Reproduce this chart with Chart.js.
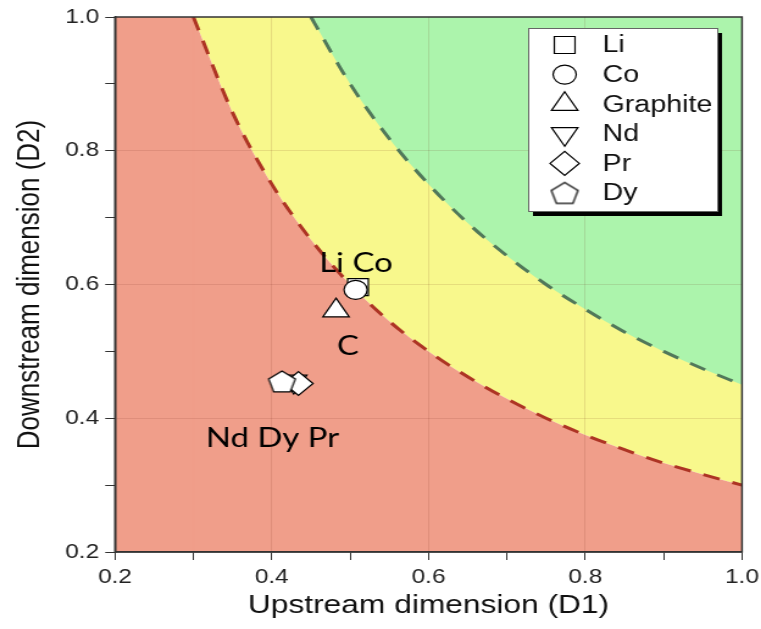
<!DOCTYPE html>
<html>
<head>
<meta charset="utf-8">
<script src="https://cdn.jsdelivr.net/npm/chart.js@4.4.0/dist/chart.umd.min.js"></script>
<style>
  html, body { margin: 0; padding: 0; background: #fff; overflow: hidden; }
  /* the reference picture is stretched sideways, so the canvas is too */
  #chart { display: block; transform: scaleX(1.2196); transform-origin: 0 0; }
</style>
</head>
<body>
<canvas id="chart" width="624" height="629"></canvas>
<script>
// materials and their position (D1, D2)
const materials = ['Li', 'Co', 'Graphite', 'Nd', 'Pr', 'Dy'];
const upstreamD1 = [0.510, 0.507, 0.482, 0.428, 0.434, 0.413];
const downstreamD2 = [0.596, 0.592, 0.561, 0.455, 0.452, 0.455];

// lower (red) boundary
const redBoundX = [0.30, 0.35, 0.40, 0.45, 0.50, 0.55, 0.60, 0.65, 0.70, 0.75, 0.80, 0.85, 0.90, 0.95, 1.00];
const redBoundY = [1.00, 0.857, 0.750, 0.667, 0.600, 0.545, 0.500, 0.462, 0.429, 0.400, 0.375, 0.353, 0.333, 0.316, 0.300];

// upper (green) boundary
const greenBoundX = [0.45, 0.50, 0.55, 0.60, 0.65, 0.70, 0.75, 0.80, 0.85, 0.90, 0.95, 1.00];
const greenBoundY = [1.00, 0.900, 0.818, 0.750, 0.692, 0.643, 0.600, 0.563, 0.529, 0.500, 0.474, 0.450];

// red strip left of the red curve, along the top edge (a hair past 0.3 to close the seam)
const redStripX = [0.20, 0.302];
const redStripY = [1.00, 1.00];

// text labels placed next to the markers
const labelTexts = ['Li Co', 'C', 'Nd Dy Pr'];
const labelX = [0.5075, 0.497, 0.401];
const labelY = [0.618, 0.495, 0.357];

// axis range and labelled ticks
const axisMin = 0.2;
const axisMax = 1.0;
const labelledTicks = [0.2, 0.4, 0.6, 0.8, 1.0];
const gridTicks = [0.4, 0.6, 0.8];

const RED = 'rgb(240,158,138)';
const YELLOW = 'rgb(248,248,140)';
const GREEN = 'rgb(172,244,172)';

function makePentagon(r) {
  const c = document.createElement('canvas');
  const size = Math.ceil(2 * r + 4);
  c.width = size;
  c.height = size;
  const g = c.getContext('2d');
  const cx = size / 2;
  const cy = size / 2 + r * (1 - Math.cos(Math.PI / 5)) / 2;
  g.beginPath();
  for (let i = 0; i < 5; i++) {
    const a = -Math.PI / 2 + i * 2 * Math.PI / 5;
    const px = cx + r * Math.cos(a);
    const py = cy + r * Math.sin(a);
    if (i === 0) g.moveTo(px, py); else g.lineTo(px, py);
  }
  g.closePath();
  g.fillStyle = '#fff';
  g.fill();
  g.lineWidth = 1.2;
  g.strokeStyle = '#000';
  g.stroke();
  return c;
}

const pentagon = makePentagon(11.5);

// marker look for each material, same order as materials
const markerStyles = [
  { pointStyle: 'rect', radius: 12, rotation: 0 },
  { pointStyle: 'circle', radius: 9.5, rotation: 0 },
  { pointStyle: 'triangle', radius: 12.5, rotation: 0 },
  { pointStyle: 'triangle', radius: 12.5, rotation: 180 },
  { pointStyle: 'rectRot', radius: 12, rotation: 0 },
  { pointStyle: pentagon, radius: 11.5, rotation: 0 }
];
const drawOrder = [4, 3, 5, 2, 1, 0];

const pts = (xs, ys) => xs.map((x, i) => ({ x: x, y: ys[i] }));

const markerSets = materials.map((name, i) => ({
  label: name,
  data: [{ x: upstreamD1[i], y: downstreamD2[i] }],
  showLine: false,
  fill: false,
  pointStyle: markerStyles[i].pointStyle,
  pointRadius: markerStyles[i].radius,
  pointHoverRadius: markerStyles[i].radius,
  pointRotation: markerStyles[i].rotation,
  pointBackgroundColor: '#fff',
  pointBorderColor: '#000',
  pointBorderWidth: 1.2,
  order: drawOrder[i]
}));

const curveBase = {
  pointRadius: 0,
  cubicInterpolationMode: 'monotone',
  borderWidth: 0,
  borderColor: 'transparent'
};

const datasets = [
  ...markerSets,
  { ...curveBase, label: 'redLine', data: pts(redBoundX, redBoundY), fill: false,
    borderColor: '#ad3424', borderWidth: 3, borderDash: [14, 11], order: 10 },
  { ...curveBase, label: 'greenLine', data: pts(greenBoundX, greenBoundY), fill: false,
    borderColor: '#51785a', borderWidth: 3, borderDash: [14, 11], order: 11 },
  { ...curveBase, label: 'yellowZone', data: pts(redBoundX, redBoundY), fill: 'end',
    backgroundColor: YELLOW, order: 30 },
  { ...curveBase, label: 'greenZone', data: pts(greenBoundX, greenBoundY), fill: 'end',
    backgroundColor: GREEN, order: 25 },
  { ...curveBase, label: 'redZone', data: pts(redBoundX, redBoundY), fill: 'start',
    backgroundColor: RED, order: 26 },
  { ...curveBase, label: 'redStrip', data: pts(redStripX, redStripY), fill: 'start',
    backgroundColor: RED, order: 27 }
];

const isLabelled = v => labelledTicks.some(t => Math.abs(t - v) < 1e-6);
const isGrid = v => gridTicks.some(t => Math.abs(t - v) < 1e-6);

function axis(titleText, fit, titlePadding) {
  return {
    type: 'linear',
    min: axisMin,
    max: axisMax,
    ticks: {
      stepSize: 0.1,
      autoSkip: false,
      maxRotation: 0,
      padding: 5,
      color: '#222',
      font: { family: 'Liberation Sans, Arial, sans-serif', size: 20 },
      callback: v => isLabelled(v) ? v.toFixed(1) : ''
    },
    grid: {
      color: ctx => (ctx.tick && isGrid(ctx.tick.value)) ? 'rgba(110,40,20,0.13)' : 'transparent',
      tickColor: '#333',
      tickLength: 8,
      lineWidth: 1
    },
    border: { color: '#333', width: 1.5 },
    title: {
      display: true,
      text: titleText,
      color: '#111',
      font: { family: 'Liberation Sans, Arial, sans-serif', size: 26 },
      padding: titlePadding
    },
    afterFit: fit
  };
}

const overlayPlugin = {
  id: 'overlay',
  afterDatasetsDraw(chart) {
    const { ctx, scales: { x, y } } = chart;
    ctx.save();
    ctx.font = '27px Lato, "Open Sans", sans-serif';
    ctx.fillStyle = '#000';
    ctx.textAlign = 'center';
    ctx.textBaseline = 'alphabetic';
    labelTexts.forEach((t, i) => {
      ctx.fillText(t, x.getPixelForValue(labelX[i]), y.getPixelForValue(labelY[i]));
    });
    ctx.restore();
  },
  afterDraw(chart) {
    const { ctx, chartArea: a } = chart;
    ctx.save();
    // frame round the plot
    ctx.strokeStyle = '#333';
    ctx.lineWidth = 1.5;
    ctx.strokeRect(a.left, a.top, a.right - a.left, a.bottom - a.top);

    // legend box with a hard shadow
    const bx = 433, by = 28, bw = 155, bh = 183;
    ctx.fillStyle = '#000';
    ctx.fillRect(bx + 4, by + 5, bw, bh);
    ctx.fillStyle = '#fff';
    ctx.fillRect(bx, by, bw, bh);
    ctx.strokeStyle = '#666';
    ctx.lineWidth = 1;
    ctx.strokeRect(bx + 0.5, by + 0.5, bw, bh);

    ctx.font = '23.5px "Liberation Sans", Arial, sans-serif';
    ctx.textAlign = 'left';
    ctx.textBaseline = 'middle';
    materials.forEach((name, i) => {
      const rowY = 45 + i * 29.6;
      ctx.fillStyle = '#fff';
      ctx.strokeStyle = '#000';
      ctx.lineWidth = 1.2;
      Chart.helpers.drawPoint(ctx, {
        pointStyle: markerStyles[i].pointStyle,
        radius: markerStyles[i].radius,
        rotation: markerStyles[i].rotation,
        borderWidth: 1.2
      }, 463, rowY);
      ctx.fillStyle = '#111';
      ctx.fillText(name, 494, rowY + 1);
    });
    ctx.restore();
  }
};

new Chart(document.getElementById('chart'), {
  type: 'line',
  data: { datasets: datasets },
  options: {
    responsive: false,
    animation: false,
    layout: { padding: { top: 17, right: 15.6, left: 0, bottom: 0 } },
    plugins: {
      legend: { display: false },
      tooltip: { enabled: false },
      filler: { drawTime: 'beforeDraw' }
    },
    scales: {
      x: axis('Upstream dimension (D1)', s => {
        s.height = 77;
        s.paddingLeft = 0;
        s.paddingRight = 0;
      }, { top: 4, bottom: 8 }),
      y: axis('Downstream dimension (D2)', s => {
        s.width = 94.3;
        s.paddingTop = 0;
        s.paddingBottom = 0;
      }, { top: 9, bottom: 4 })
    }
  },
  plugins: [overlayPlugin]
});
</script>
</body>
</html>
